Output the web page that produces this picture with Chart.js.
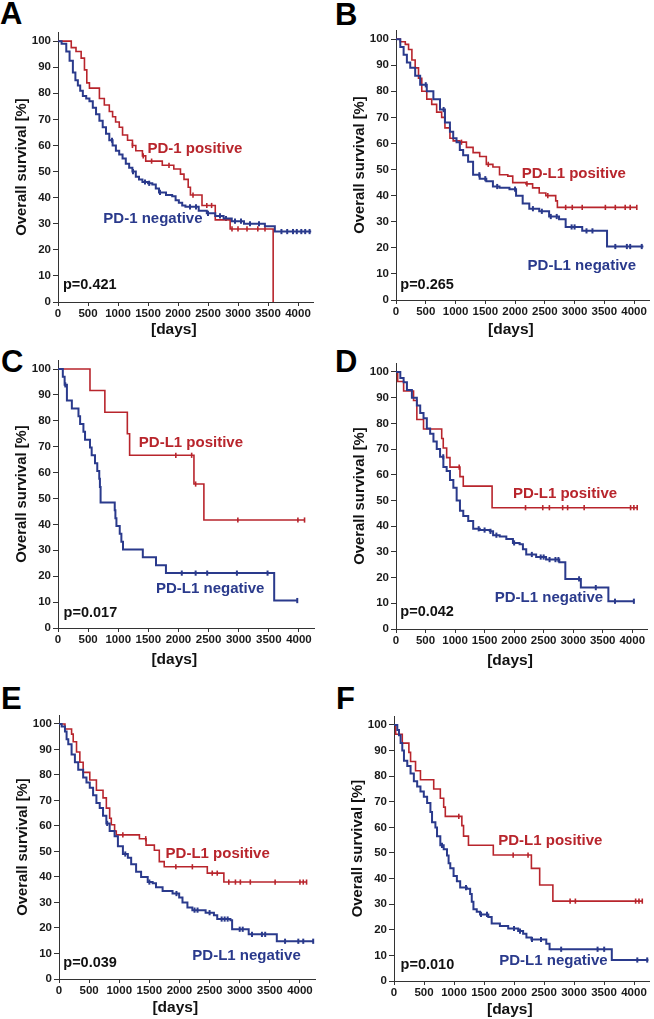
<!DOCTYPE html>
<html>
<head>
<meta charset="utf-8">
<script src="https://cdn.jsdelivr.net/npm/chart.js@4.4.1/dist/chart.umd.min.js"></script>
<style>
  html, body { margin: 0; padding: 0; background: #fff; width: 654px; height: 1019px; overflow: hidden; position: relative; }
  canvas { position: absolute; }
  .letter { position: absolute; font: bold 31px/31px "Liberation Sans", Arial, sans-serif; color: #000; }
</style>
</head>
<body>
<div class="letter" style="left:0px;top:-2px">A</div>
<div class="letter" style="left:335px;top:-1px">B</div>
<div class="letter" style="left:1px;top:346px">C</div>
<div class="letter" style="left:335px;top:346px">D</div>
<div class="letter" style="left:1px;top:683px">E</div>
<div class="letter" style="left:336px;top:683px">F</div>

<script>
// axis ticks
const xTicks = [0, 500, 1000, 1500, 2000, 2500, 3000, 3500, 4000];
const yTicks = [0, 10, 20, 30, 40, 50, 60, 70, 80, 90, 100];

// survival curves: event days (T), survival after event in % (S), censored days (C)
// A - PD-1
const aPosT = [0,221,300,386,441,480,524,690,772,855,910,960,1021,1076,1159,1241,1297,1407,1462,1738,1930,2041,2100,2170,2207,2400,2621,2869,3586];
const aPosS = [100,97.5,96,93.5,89,84,82,78,75.5,73,71,69,67,64,62,60,58,56,54,52.4,51,49,47,44,41,37,31.5,28,0];
const aPosC = [1241,1420,1560,1850,2250,2480,2560,2900,3000,3150,3330,3450];
const aNegT = [0,60,138,193,248,290,331,370,414,470,524,580,634,690,745,800,855,910,965,1020,1076,1130,1186,1240,1297,1350,1407,1500,1572,1630,1683,1800,1903,1960,2014,2070,2124,2345,2480,2621,2760,2896,3100,3448,3614,4220];
const aNegS = [100,99,96,92.5,88,85,83,81,79,78,77,74.5,72,69.5,67,64.5,62,60,58,56.5,55,53,51.5,50,48,47,46,45.5,45,43.5,42,41,40.5,39,38,37,36.5,35,34,33,32,31,30,29,27,27];
const aNegC = [900,1250,1450,1520,1700,2200,2300,2500,2700,2800,2950,3050,3200,3350,3724,3820,3917,3980,4055,4120,4193];
// B - PD-L1
const bPosT = [0,72,156,211,267,322,378,433,517,600,683,767,822,906,961,1072,1183,1295,1406,1517,1628,1739,1878,1961,2183,2295,2406,2517,2683,2711,4045];
const bPosS = [100,99,98,96,92,89,85,80,77,75,72,70,66,62,61,60.5,58.5,56.5,55,52,51,48,47.5,45,44.5,43,41,40,38,35.5,35.5];
const bPosC = [1100,1550,2200,2550,2850,2961,3128,3517,3684,3850,3934,4045];
const bNegT = [0,72,128,183,239,322,406,517,628,739,822,906,961,1017,1072,1128,1211,1295,1406,1517,1628,1739,1906,2017,2128,2239,2406,2572,2739,2850,3128,3545,4156];
const bNegS = [100,97,94,91,89,86,82.5,80,77,73,68,64.5,62,60.5,57.5,55.5,53,48,46.5,45.5,43.5,43,42.5,40,37,35,34,32,31,28,26.5,20.5,20.5];
const bNegC = [500,800,1400,1500,1700,2000,2300,2450,2600,2700,2950,3000,3200,3300,3684,3878,3934,4128];
// C
const cPosT = [0,531,778,1151,1189,2257,2422,4093];
const cPosS = [100,91.7,83.3,75,66.7,55.6,41.7,41.7];
const cPosC = [1956,2219,2285,2986,3983,4093];
const cNegT = [0,80,110,148,230,340,367,422,449,531,559,614,652,685,696,707,942,953,970,1025,1052,1079,1408,1627,1792,3589,3972];
const cNegS = [100,97,93.9,87.9,84.8,81.8,78.8,75.8,72.7,69.7,66.7,63.6,60.6,57.6,54.5,48.5,45.5,42.4,39.4,36.4,33.3,30.3,27.3,24.2,21.2,10.6,10.6];
const cNegC = [121,2055,2285,2477,2970,3479,3972];
// D
const dPosT = [0,28,129,297,353,466,774,800,858,914,1083,1139,1627,4084];
const dPosS = [100,96.3,92.6,88.9,81.5,77.8,74.1,70.4,66.7,63,59.3,55.6,47.2,47.2];
const dPosC = [1070,2193,2485,2597,2822,2906,3186,3972,4028,4084];
const dNegT = [0,73,129,185,269,353,410,466,522,578,634,690,746,802,858,914,971,1027,1083,1139,1223,1307,1419,1588,1644,1756,1868,1980,2093,2149,2205,2373,2541,2765,2867,3130,3596,4028];
const dNegS = [100,97.7,96,93,90,87,84,82,78,76,73,70,67,63,61.5,58,55,50,46,44,42,39,38.5,38,36.5,36,35,33.5,33,31,29,28,27,26,19.5,16.1,10.8,10.8];
const dNegC = [800,1400,1500,1600,1700,2000,2300,2450,2500,2600,2700,2750,3100,3383,3708,4028];
// E
const ePosT = [0,99,209,236,291,346,401,511,621,731,786,841,868,923,951,1335,1445,1583,1665,1747,2462,2737,4110];
const ePosS = [100,98,96,93,89,85,81,78,74,71,67,63,60.5,58,56.5,55,52.5,50.5,46,44,41.5,38,38];
const ePosC = [1060,1440,1940,2214,2544,2627,2819,2929,3011,3176,3588,4000,4055,4110];
const eNegT = [0,44,99,126,154,209,264,319,401,456,511,566,621,676,731,786,841,923,978,1061,1143,1198,1280,1363,1473,1555,1610,1720,1885,1995,2050,2132,2214,2434,2572,2627,2846,2874,3149,3616,4220];
const eNegS = [100,99,97,94,92,88,85,82,79,77,75,72,69,67,64,61,58,56,52,49,47.5,45,42,40,38,37.5,36,34.5,33.5,32,30,28,27,26,25,23.5,23,19.5,17.5,14.8,14.8];
const eNegC = [800,1100,1500,1950,2250,2300,2500,2700,2750,2800,3000,3050,3204,3369,3423,3753,3973,4055,4220];
// F
const fPosT = [0,28,138,248,276,359,441,662,772,828,855,1131,1159,1241,1655,2290,2428,2648,4138];
const fPosS = [100,96.4,92.9,89.3,85.7,82.1,78.6,75,71.4,67.9,64.3,60.7,56.6,53,49.2,44,37.5,31.2,31.2];
const fPosC = [1080,1986,2234,2935,3023,4027,4083,4138];
const fNegT = [0,55,83,110,138,166,221,276,331,386,441,497,552,607,634,690,717,772,828,883,910,938,993,1048,1103,1214,1269,1296,1324,1379,1434,1572,1628,1765,1903,2069,2152,2207,2290,2538,2593,3630,4240];
const fNegS = [100,98,96,93,90,86,84,81,78,76,74,72,69.5,66,62,60,56.5,53,51.5,49,46,44,41,39,36.5,36,34,31,28,27,26,25,22.5,21.5,20.5,19.5,18.5,17,16.2,14.5,12.4,8.2,8.2];
const fNegC = [800,1200,1450,1550,2000,2100,2300,2450,2786,3393,3503,4055,4220];

const RED = '#b8252c';
const BLUE = '#2a3a8c';
const FONT = '"Liberation Sans", Arial, sans-serif';
const X_MAX = 4250, Y_MAX = 103.5;
const Y_AXIS_W = 58, X_AXIS_H = 42, PAD_TOP = 12, PAD_RIGHT = 4;

// panel placement (axis origin in page px, px per 4000 days / per 100 %)
const panels = [
  { L: 58,  B: 302, w4k: 242, h100: 261, pos: [aPosT, aPosS, aPosC], neg: [aNegT, aNegS, aNegC],
    posLbl: 'PD-1 positive', negLbl: 'PD-1 negative', p: 'p=0.421', posAt: [1490, 58.8], negAt: [756, 32], pAt: [83, 6.4], daysGap: 28 },
  { L: 396, B: 300, w4k: 240, h100: 261, pos: [bPosT, bPosS, bPosC], neg: [bNegT, bNegS, bNegC],
    posLbl: 'PD-L1 positive', negLbl: 'PD-L1 negative', p: 'p=0.265', posAt: [2111, 48.3], negAt: [2211, 13.2], pAt: [72, 5.8], daysGap: 30 },
  { L: 58,  B: 628, w4k: 243, h100: 259, pos: [cPosT, cPosS, cPosC], neg: [cNegT, cNegS, cNegC],
    posLbl: 'PD-L1 positive', negLbl: 'PD-L1 negative', p: 'p=0.017', posAt: [1342, 71.4], negAt: [1627, 15.3], pAt: [93, 5.8], daysGap: 32 },
  { L: 396, B: 629, w4k: 238, h100: 257, pos: [dPosT, dPosS, dPosC], neg: [dNegT, dNegS, dNegC],
    posLbl: 'PD-L1 positive', negLbl: 'PD-L1 negative', p: 'p=0.042', posAt: [1980, 52.6], negAt: [1672, 12.1], pAt: [73, 6.5], daysGap: 32 },
  { L: 59,  B: 979, w4k: 243, h100: 255, pos: [ePosT, ePosS, ePosC], neg: [eNegT, eNegS, eNegC],
    posLbl: 'PD-L1 positive', negLbl: 'PD-L1 negative', p: 'p=0.039', posAt: [1769, 49], negAt: [2214, 9], pAt: [71, 6.4], daysGap: 29 },
  { L: 394, B: 981, w4k: 242, h100: 256, pos: [fPosT, fPosS, fPosC], neg: [fNegT, fNegS, fNegC],
    posLbl: 'PD-L1 positive', negLbl: 'PD-L1 negative', p: 'p=0.010', posAt: [1738, 54.8], negAt: [1754, 7.9], pAt: [110, 6.2], daysGap: 29 }
];

function stepPoints(t, s) {
  return t.map((d, i) => ({ x: d, y: s[i] }));
}
function censorPoints(c, t, s) {
  return c.map(d => {
    let y = s[0];
    for (let i = 0; i < t.length; i++) { if (t[i] <= d) y = s[i]; }
    return { x: d, y: y };
  });
}

// labels inside the plot, placed on data coordinates
const kmText = {
  id: 'kmText',
  afterDatasetsDraw(chart, args, opts) {
    const { ctx } = chart;
    const x = chart.scales.x, y = chart.scales.y;
    ctx.save();
    ctx.textBaseline = 'middle';
    opts.items.forEach(it => {
      ctx.font = 'bold ' + it.size + 'px ' + FONT;
      ctx.fillStyle = it.color;
      ctx.textAlign = it.align || 'left';
      ctx.fillText(it.text, x.getPixelForValue(it.at[0]), y.getPixelForValue(it.at[1]) + (it.dy || 0));
    });
    ctx.restore();
  }
};

panels.forEach(pn => {
  const areaW = Math.round(pn.w4k * X_MAX / 4000);
  const areaH = Math.round(pn.h100 * Y_MAX / 100);
  const w = Y_AXIS_W + areaW + PAD_RIGHT;
  const h = PAD_TOP + areaH + X_AXIS_H;
  const cv = document.createElement('canvas');
  cv.width = w; cv.height = h;
  cv.style.left = (pn.L - Y_AXIS_W) + 'px';
  cv.style.top = (pn.B - areaH - PAD_TOP) + 'px';
  document.body.appendChild(cv);

  const lineSet = (arr, color, lw) => ({
    data: stepPoints(arr[0], arr[1]), borderColor: color, borderWidth: lw,
    stepped: true, pointRadius: 0, fill: false, tension: 0
  });
  const censSet = (arr, color, lw) => ({
    data: censorPoints(arr[2], arr[0], arr[1]), showLine: false, borderColor: color,
    backgroundColor: color, pointStyle: 'line', rotation: 90, pointRadius: 2.6, borderWidth: lw
  });

  new Chart(cv, {
    type: 'line',
    data: { datasets: [lineSet(pn.neg, BLUE, 2), lineSet(pn.pos, RED, 1.6), censSet(pn.neg, BLUE, 2), censSet(pn.pos, RED, 1.6)] },
    options: {
      responsive: false,
      animation: false,
      events: [],
      layout: { padding: { top: PAD_TOP, right: PAD_RIGHT, left: 0, bottom: 0 } },
      plugins: {
        legend: { display: false },
        tooltip: { enabled: false },
        kmText: {
          items: [
            { text: pn.posLbl, at: pn.posAt, color: RED, size: 15 },
            { text: pn.negLbl, at: pn.negAt, color: BLUE, size: 15 },
            { text: pn.p, at: pn.pAt, color: '#111', size: 14.5 },
            { text: '[days]', at: [1930, 0], dy: pn.daysGap, color: '#111', size: 15.5, align: 'center' }
          ]
        }
      },
      scales: {
        x: {
          type: 'linear', min: 0, max: X_MAX,
          afterBuildTicks: s => { s.ticks = xTicks.map(v => ({ value: v })); },
          afterFit: s => { s.height = X_AXIS_H; },
          grid: { drawOnChartArea: false, tickLength: 4, color: '#333' },
          border: { color: '#333', width: 1 },
          ticks: { color: '#1a1a1a', padding: 1, maxRotation: 0, autoSkip: false, callback: v => String(v),
                   font: { family: FONT, size: 11.5, weight: 'bold' } }
        },
        y: {
          type: 'linear', min: 0, max: Y_MAX,
          afterBuildTicks: s => { s.ticks = yTicks.map(v => ({ value: v })); },
          afterFit: s => { s.width = Y_AXIS_W; },
          grid: { drawOnChartArea: false, tickLength: 5, color: '#333' },
          border: { color: '#333', width: 1 },
          ticks: { color: '#1a1a1a', padding: 2, autoSkip: false, callback: v => String(v),
                   font: { family: FONT, size: 11.5, weight: 'bold' } },
          title: { display: true, text: 'Overall survival [%]', color: '#111', padding: { top: 13 },
                   font: { family: FONT, size: 14.8, weight: 'bold' } }
        }
      }
    },
    plugins: [kmText]
  });
});
</script>
</body>
</html>
